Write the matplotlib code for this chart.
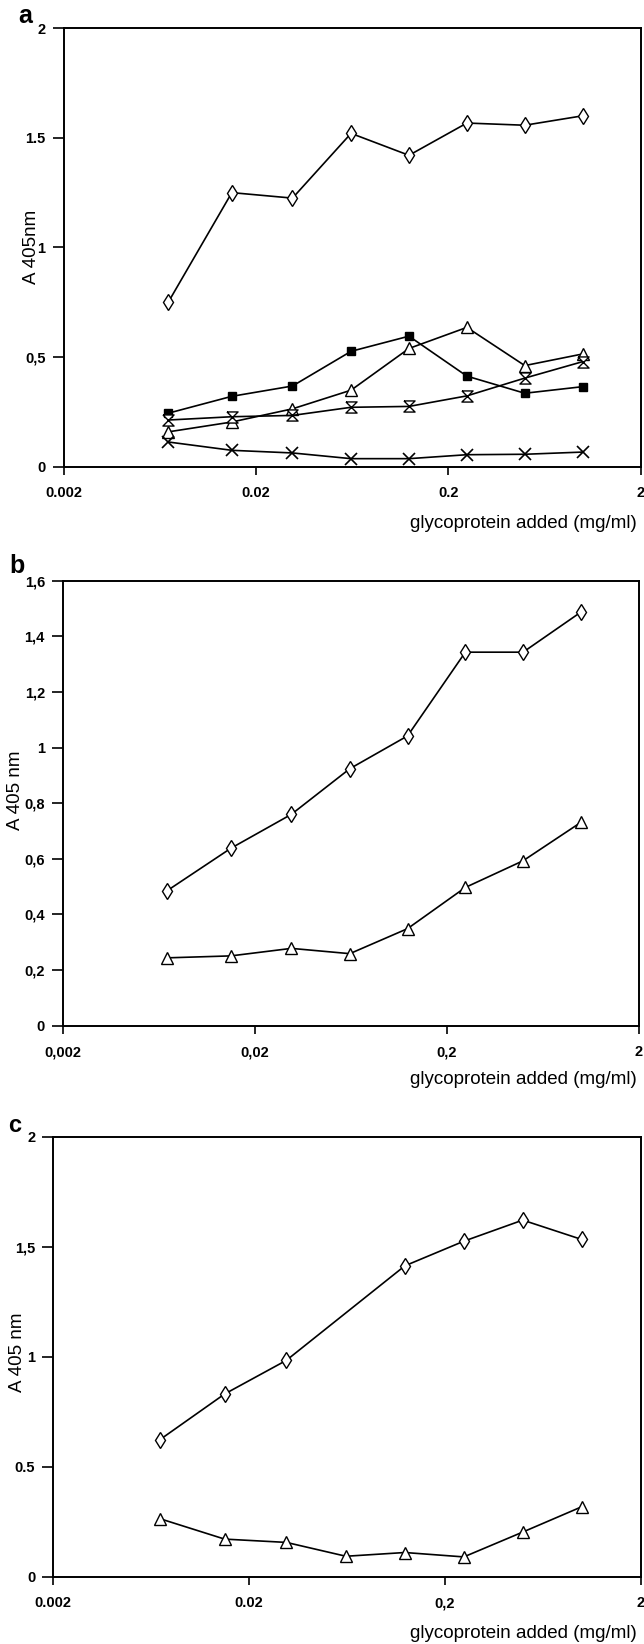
import matplotlib
matplotlib.use("Agg")
import matplotlib.pyplot as plt
from matplotlib.ticker import FixedLocator, FixedFormatter, NullLocator

plt.rcParams['font.family'] = ['Liberation Sans', 'DejaVu Sans']

# glycoprotein concentration (mg/ml)
conc = [0.007, 0.015, 0.031, 0.0625, 0.125, 0.25, 0.5, 1.0]
conc_c_diamond = [0.007, 0.015, 0.031, 0.125, 0.25, 0.5, 1.0]

# panel a
a_diamond = [0.75, 1.25, 1.225, 1.52, 1.42, 1.567, 1.557, 1.60]
a_square = [0.245, 0.322, 0.369, 0.527, 0.596, 0.414, 0.336, 0.366]
a_triangle = [0.16, 0.205, 0.265, 0.35, 0.54, 0.636, 0.462, 0.515]
a_hourglass = [0.214, 0.229, 0.235, 0.272, 0.276, 0.324, 0.405, 0.48]
a_cross = [0.114, 0.076, 0.064, 0.038, 0.038, 0.056, 0.058, 0.068]

# panel b
b_diamond = [0.486, 0.638, 0.76, 0.924, 1.042, 1.343, 1.343, 1.487]
b_triangle = [0.244, 0.251, 0.278, 0.259, 0.349, 0.497, 0.593, 0.731]

# panel c
c_diamond = [0.623, 0.831, 0.984, 1.414, 1.526, 1.622, 1.534]
c_triangle = [0.264, 0.171, 0.156, 0.093, 0.110, 0.090, 0.203, 0.318]

xticks = [0.002, 0.02, 0.2, 2]
a_xlabels = ["0.002", "0.02", "0.2", "2"]
b_xlabels = ["0,002", "0,02", "0,2", "2"]
c_xlabels = ["0.002", "0.02", "0,2", "2"]
a_yticks = [0, 0.5, 1, 1.5, 2]
a_ylabels = ["0", "0,5", "1", "1.5", "2"]
b_yticks = [0, 0.2, 0.4, 0.6, 0.8, 1, 1.2, 1.4, 1.6]
b_ylabels = ["0", "0,2", "0,4", "0,6", "0,8", "1", "1,2", "1,4", "1,6"]
c_yticks = [0, 0.5, 1, 1.5, 2]
c_ylabels = ["0", "0.5", "1", "1,5", "2"]

W, H = 644, 1644
fig = plt.figure(figsize=(W / 100, H / 100), dpi=100)

hourglass = [(-1, 1), (1, 1), (-1, -1), (1, -1), (-1, 1)]


def px_axes(left, right, top, bottom):
    return fig.add_axes([left / W, 1 - bottom / H, (right - left) / W, (bottom - top) / H])


def style(ax, ymax, xlab, ytk, ylab):
    ax.set_xscale('log')
    ax.set_xlim(0.002, 2)
    ax.set_ylim(0, ymax)
    ax.xaxis.set_major_locator(FixedLocator(xticks))
    ax.xaxis.set_major_formatter(FixedFormatter(xlab))
    ax.xaxis.set_minor_locator(NullLocator())
    ax.yaxis.set_major_locator(FixedLocator(ytk))
    ax.yaxis.set_major_formatter(FixedFormatter(ylab))
    for s in ax.spines.values():
        s.set_linewidth(1.4)
    ax.tick_params(axis='x', direction='out', length=6, width=1.2, pad=8, labelsize=10.5)
    ax.tick_params(axis='y', direction='out', length=8, width=1.2, pad=5, labelsize=10.5)
    for t in ax.get_xticklabels() + ax.get_yticklabels():
        t.set_fontweight('bold')


def line(ax, x, y, marker, ms, fc='white', mew=1.0):
    ax.plot(x, y, color='black', lw=1.2, marker=marker, ms=ms,
            mfc=fc, mec='black', mew=mew, clip_on=False)


# ---- a
ax = px_axes(63.5, 640.6, 28, 467)
line(ax, conc, a_diamond, 'd', 8.5)
line(ax, conc, a_square, 's', 6, fc='black')
line(ax, conc, a_triangle, '^', 9)
line(ax, conc, a_hourglass, hourglass, 8)
line(ax, conc, a_cross, 'x', 9, mew=1.2)
style(ax, 2, a_xlabels, a_yticks, a_ylabels)

# ---- b
ax = px_axes(63, 638.6, 580.7, 1025.7)
line(ax, conc, b_diamond, 'd', 8.5)
line(ax, conc, b_triangle, '^', 9)
style(ax, 1.6, b_xlabels, b_yticks, b_ylabels)

# ---- c
ax = px_axes(53.3, 640.6, 1137, 1576.7)
line(ax, conc_c_diamond, c_diamond, 'd', 8.5)
line(ax, conc, c_triangle, '^', 9)
style(ax, 2, c_xlabels, c_yticks, c_ylabels)

# panel letters
fig.text(25 / W, 1 - 16 / H, "a", fontsize=18, fontweight='bold', ha='center', va='center')
fig.text(17 / W, 1 - 566 / H, "b", fontsize=18, fontweight='bold', ha='center', va='center')
fig.text(15 / W, 1 - 1126 / H, "c", fontsize=17, fontweight='bold', ha='center', va='center')

# x labels
for yy in (523, 1079, 1633):
    fig.text(637 / W, 1 - yy / H, "glycoprotein added (mg/ml)", fontsize=13.5,
             ha='right', va='center')

# y labels
fig.text(31 / W, 1 - 247 / H, "A 405nm", fontsize=13.5, rotation=90, ha='center', va='center')
fig.text(16 / W, 1 - 790 / H, "A 405 nm", fontsize=13.5, rotation=90, ha='center', va='center')
fig.text(18 / W, 1 - 1352 / H, "A 405 nm", fontsize=13.5, rotation=90, ha='center', va='center')

fig.savefig("out.png", dpi=100)
